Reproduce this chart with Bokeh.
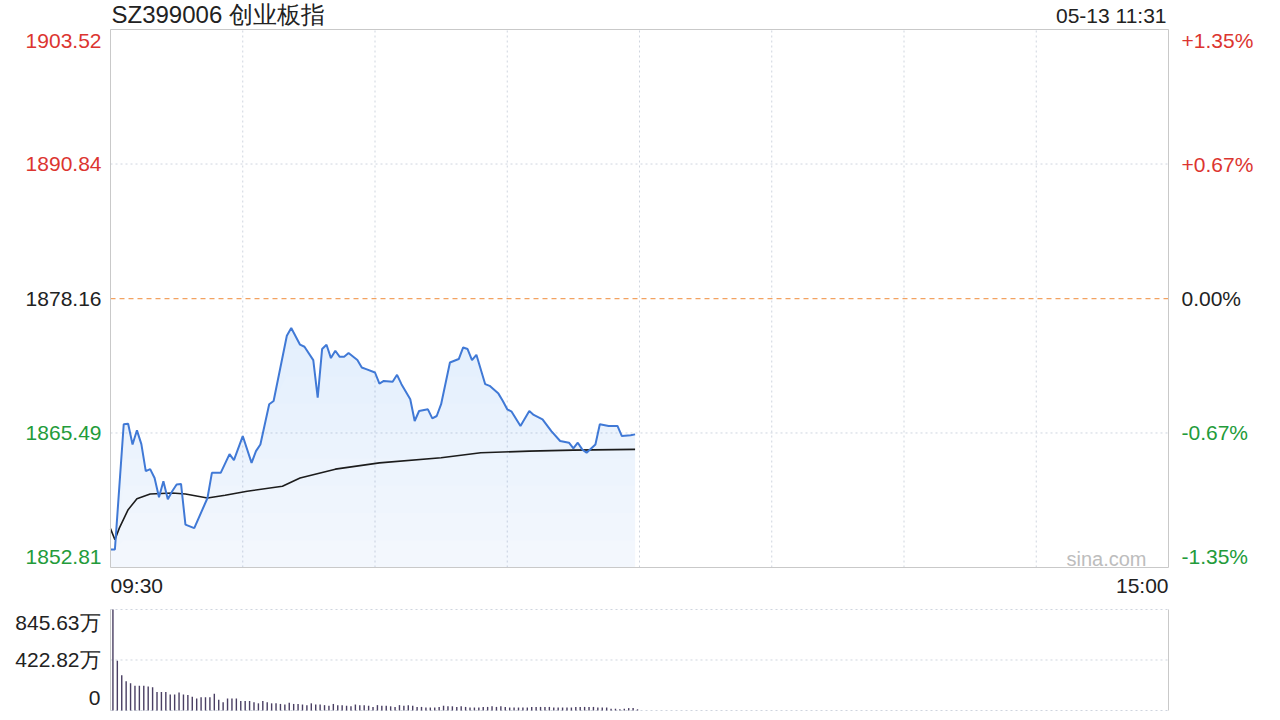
import numpy as np
from bokeh.plotting import figure
from bokeh.models import Label, Range1d
from bokeh.embed import file_html
from bokeh.resources import INLINE

# ---------------- data ----------------
title_text = "SZ399006 创业板指"
stamp_text = "05-13 11:31"
watermark = "sina.com"
prev_close = 1878.16
price_ticks = [1903.52, 1890.84, 1878.16, 1865.49, 1852.81]
pct_labels = ["+1.35%", "+0.67%", "0.00%", "-0.67%", "-1.35%"]
time_labels = ["09:30", "15:00"]
session_minutes = [0, 240]
grid_minutes = [30, 60, 90, 120, 150, 180, 210]
vol_ticks = [845.63, 422.82, 0]
vol_tick_labels = ["845.63万", "422.82万", "0"]

# minutes after 09:30 and index price
price_min = [0, 1, 3, 4, 5, 6, 7, 8, 9, 10, 11, 12, 13, 14, 15, 16, 17, 19, 22, 23,
             25, 27, 28, 30, 32, 33, 34, 36, 37, 40, 41, 43, 44, 46, 47, 48, 49, 50, 51, 52,
             53, 54, 56, 57, 58, 60, 61, 62, 64, 65, 66, 68, 69, 70, 72, 73, 74, 75, 77, 79,
             80, 81, 82, 83, 85, 86, 88, 89, 90, 91, 93, 95, 96, 98, 100, 102, 104, 105, 106, 107,
             108, 110, 111, 113, 115, 116, 118, 119]
price_val = [1854.51, 1854.51, 1866.31, 1866.36, 1864.41, 1865.74, 1864.44, 1861.89, 1862.08, 1861.25,
             1859.43, 1860.94, 1859.24, 1860.00, 1860.63, 1860.69, 1856.85, 1856.52, 1859.36, 1861.73,
             1861.73, 1863.50, 1862.93, 1865.20, 1862.67, 1863.78, 1864.41, 1868.20, 1868.51, 1874.66,
             1875.39, 1873.81, 1873.62, 1872.36, 1868.82, 1873.40, 1873.81, 1872.55, 1873.24, 1872.67,
             1872.67, 1873.02, 1872.36, 1871.66, 1871.51, 1871.19, 1870.15, 1870.40, 1870.31, 1870.97,
             1870.09, 1868.67, 1866.62, 1867.56, 1867.72, 1866.87, 1867.09, 1868.20, 1872.13, 1872.46,
             1873.55, 1873.40, 1872.36, 1872.86, 1870.09, 1869.93, 1869.20, 1868.51, 1867.72, 1867.50,
             1866.14, 1867.56, 1867.19, 1866.78, 1865.67, 1864.73, 1864.57, 1864.04, 1864.57, 1863.94,
             1863.62, 1864.41, 1866.31, 1866.15, 1866.15, 1865.20, 1865.27, 1865.36]

avg_min = [0, 1, 2, 4, 6, 9, 14, 17, 22, 26, 31, 39, 43, 51, 61, 75, 84, 95, 105, 119]
avg_val = [1856.47, 1855.43, 1856.52, 1858.26, 1859.30, 1859.74, 1859.83, 1859.74, 1859.36, 1859.62,
           1860.00, 1860.47, 1861.25, 1862.08, 1862.67, 1863.15, 1863.62, 1863.78, 1863.87, 1863.94]

# volume per minute (万)
volume = [845.63, 416, 295, 244, 229, 207, 207, 207, 200, 195,
          155, 155, 155, 135, 135, 150, 135, 130, 115, 100,
          110, 110, 110, 140, 90, 70, 100, 100, 100, 80,
          80, 80, 70, 60, 80, 70, 60, 60, 55, 50,
          65, 55, 55, 50, 45, 60, 50, 50, 45, 40,
          55, 45, 45, 40, 35, 50, 45, 45, 40, 30,
          45, 40, 40, 35, 30, 45, 40, 45, 40, 30,
          30, 25, 25, 25, 30, 40, 35, 35, 30, 35,
          30, 25, 25, 25, 30, 30, 35, 30, 35, 30,
          25, 25, 25, 25, 25, 30, 30, 30, 30, 30,
          25, 25, 25, 25, 25, 30, 30, 30, 30, 30,
          25, 25, 25, 15, 15, 10, 15, 20, 20, 10]

# ---------------- layout (pixels on the canvas) ----------------
W, H = 1276, 716
PX_L, PX_R = 110, 1168          # session start / end
PX_PT, PX_PB = 29, 567          # price panel top / bottom
PX_VT, PX_VB = 609, 710         # volume panel top / bottom

xs = (session_minutes[1] - session_minutes[0]) / (PX_R - PX_L)
x_start = session_minutes[0] - PX_L * xs
x_end = session_minutes[1] + (W - PX_R) * xs
ps = (price_ticks[0] - price_ticks[-1]) / (PX_PB - PX_PT)
y_end = price_ticks[0] + PX_PT * ps
y_start = price_ticks[-1] - (H - PX_PB) * ps
vs = (vol_ticks[0] - vol_ticks[-1]) / (PX_VB - PX_VT)
v_end = vol_ticks[0] + PX_VT * vs
v_start = vol_ticks[-1] - (H - PX_VB) * vs

FONT = "Liberation Sans"
RED = "#dc3530"
GREEN = "#239b3a"
BLACK = "#222222"
BLUE = "#4079d6"
FILL = "#7aa7e8"
GRID = "#cfd5df"
BORDER = "#c9c9c9"

p = figure(width=W, height=H, x_range=Range1d(x_start, x_end), y_range=Range1d(y_start, y_end),
           x_axis_type=None, y_axis_type=None, toolbar_location=None, output_backend="svg",
           min_border=0)
p.extra_y_ranges = {"vol": Range1d(v_start, v_end)}
p.outline_line_color = None
p.background_fill_color = "white"
p.border_fill_color = "white"
p.xgrid.visible = False
p.ygrid.visible = False

top, bot = price_ticks[0], price_ticks[-1]
s0, s1 = session_minutes

# price panel grid
p.segment(x0=grid_minutes, y0=[bot] * len(grid_minutes), x1=grid_minutes, y1=[top] * len(grid_minutes),
          line_color=GRID, line_dash="2 3", line_width=1)
hg = [price_ticks[1], price_ticks[3]]
p.segment(x0=[s0] * 2, y0=hg, x1=[s1] * 2, y1=hg, line_color=GRID, line_dash="2 3", line_width=1)

# gradient-like fill under price line
pv = np.array(price_val)
levels = np.linspace(bot, 1876.0, 10)
for i, lv in enumerate(levels):
    p.varea(x=price_min, y1=np.minimum(pv, lv), y2=pv, fill_color=FILL,
            fill_alpha=0.09 if i == 0 else 0.014)

# previous close
p.segment(x0=[s0], y0=[prev_close], x1=[s1], y1=[prev_close], line_color="#f3a260",
          line_dash="5 4", line_width=1.2)

p.line(avg_min, avg_val, line_color="#1c1c1c", line_width=1.6)
p.line(price_min, price_val, line_color=BLUE, line_width=2)

# price panel border
p.quad(left=[s0], right=[s1], bottom=[bot], top=[top], fill_color=None, line_color=BORDER, line_width=1)

# volume panel
p.segment(x0=[s0] * 3, y0=vol_ticks, x1=[s1] * 3, y1=vol_ticks, line_color=GRID, line_dash="2 3",
          line_width=1, y_range_name="vol")
p.segment(x0=[s0, s1], y0=[vol_ticks[-1]] * 2, x1=[s0, s1], y1=[vol_ticks[0]] * 2,
          line_color=BORDER, line_width=1, y_range_name="vol")
p.vbar(x=np.arange(len(volume)) + 0.55, top=volume, bottom=0, width=0.32,
       fill_color="#4a3f63", line_color=None, y_range_name="vol")


def lab(x, y, text, align, color, xoff=0, yoff=0, size="21px", rng="default"):
    p.add_layout(Label(x=x, y=y, text=text, text_align=align, text_baseline="middle",
                       text_color=color, x_offset=xoff, y_offset=yoff, y_range_name=rng,
                       text_font=FONT, text_font_size=size))


colors = [RED, RED, BLACK, GREEN, GREEN]
yoffs = [-11, 0, 0, 0, 11]
for t, c, yo in zip(price_ticks, colors, yoffs):
    lab(s0, t, f"{t:.2f}", "right", c, xoff=-9, yoff=yo)
for t, s, c, yo in zip(price_ticks, pct_labels, colors, yoffs):
    lab(s1, t, s, "left", c, xoff=13, yoff=yo)

lab(s0, top, title_text, "left", BLACK, xoff=1, yoff=15, size="24px")
lab(s1, top, stamp_text, "right", BLACK, xoff=-2, yoff=14)
lab(s0, bot, time_labels[0], "left", BLACK, yoff=-18)
lab(s1, bot, time_labels[1], "right", BLACK, yoff=-18)
lab(s1, bot, watermark, "right", "#bdbdbd", xoff=-22, yoff=9, size="20px")

for t, s, yo in zip(vol_ticks, vol_tick_labels, [-13, 0, 13]):
    lab(s0, t, s, "right", BLACK, xoff=-10, yoff=yo, rng="vol")

open("out.html", "w").write(file_html(p, INLINE))
